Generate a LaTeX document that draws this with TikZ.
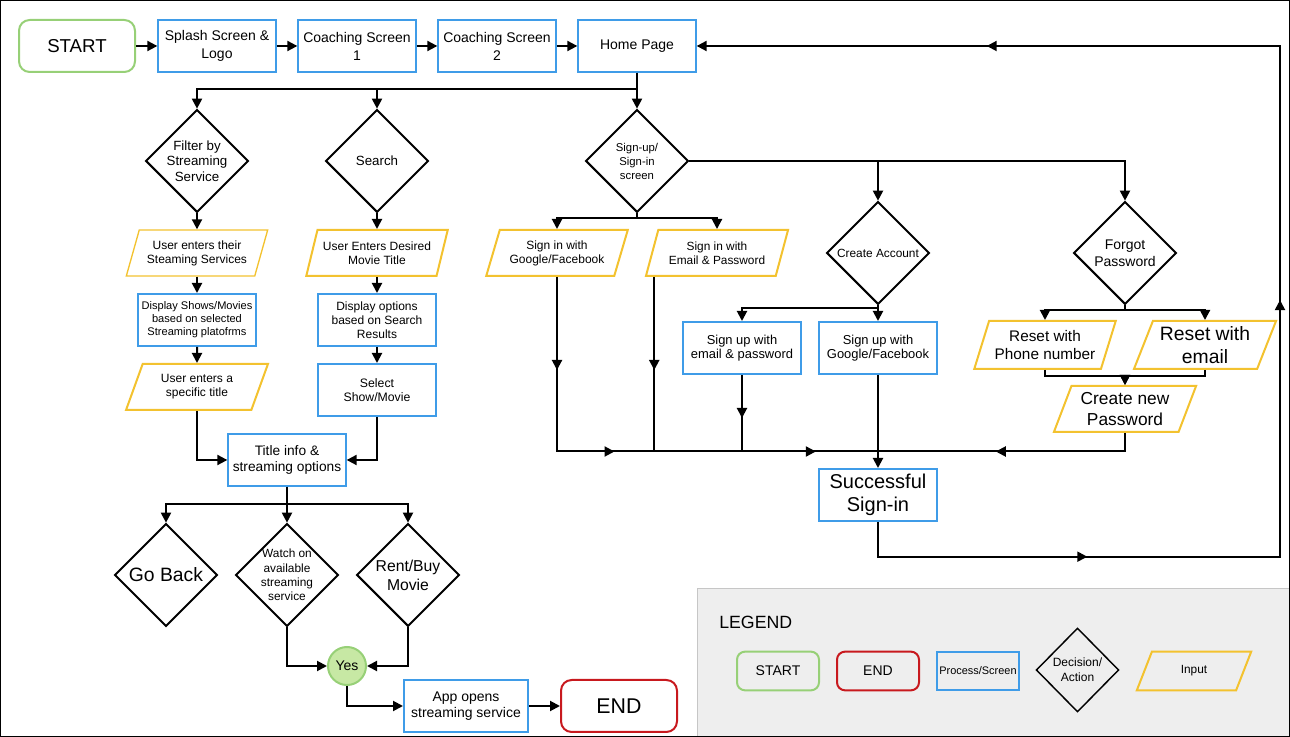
\documentclass[tikz,border=0pt]{standalone}
\usepackage{fontspec}
\setmainfont{Liberation Sans}
\usepackage{tikz}
\usetikzlibrary{shapes.geometric}
\usetikzlibrary{arrows.meta}
\usetikzlibrary{decorations.markings}

\definecolor{startgreen}{HTML}{97D077}
\definecolor{yesgreen}{HTML}{C7E8A4}
\definecolor{screenblue}{HTML}{3F9CE8}
\definecolor{inputyellow}{HTML}{F3C22F}
\definecolor{endred}{HTML}{C8191E}
\definecolor{legendgray}{HTML}{EEEEEE}
\definecolor{legendline}{HTML}{C6C6C6}

\newcommand{\fs}[2]{\fontsize{#1}{#2}\selectfont}

\tikzset{
  flowtip/.tip={Triangle[length=7.5pt,width=7.5pt]},
  flow/.style={draw,line width=1.5pt,-flowtip},
  wire/.style={draw,line width=1.5pt},
  midtip/.style={postaction={decorate,decoration={markings,mark=at position #1 with {\arrow{flowtip}}}}},
  terminal/.style={rectangle,rounded corners=8pt,draw=#1,line width=1.5pt,minimum width=87pt,minimum height=39pt,inner sep=1pt,align=center},
  screen/.style={rectangle,draw=screenblue,line width=1.5pt,minimum width=88pt,minimum height=39pt,inner sep=1pt,align=center},
  decision/.style={diamond,draw,line width=1.5pt,minimum width=77pt,minimum height=77pt,inner sep=-8pt,align=center},
  userinput/.style={trapezium,trapezium left angle=66,trapezium right angle=114,trapezium stretches=true,draw=inputyellow,line width=1.5pt,minimum width=107pt,minimum height=34.5pt,inner sep=0pt,align=center}
}

\begin{document}
\begin{tikzpicture}[x=0.75pt,y=-0.75pt]
  \useasboundingbox (0,0) rectangle (1290,737);
  % legend panel
  \filldraw[fill=legendgray,draw=legendline,line width=0.75pt] (697,588.5) rectangle (1290,737);
  \draw[line width=0.75pt] (0.5,0.5) rectangle (1289.5,736.5);

  % top row
  \node[terminal=startgreen,font=\fs{14}{17}] (start) at (77,46) {START};
  \node[screen,font=\fs{10.5}{13.5}] (splash) at (217,46) {Splash Screen \&\\Logo};
  \node[screen,font=\fs{10.5}{13.5}] (coach1) at (357,46) {Coaching Screen\\1};
  \node[screen,font=\fs{10.5}{13.5}] (coach2) at (497,46) {Coaching Screen\\2};
  \node[screen,font=\fs{10.5}{13.5}] (home) at (637,46) {Home Page};

  % browsing
  \node[decision,font=\fs{10}{11.6}] (filter) at (197,161) {Filter by\\Streaming\\Service};
  \node[decision,font=\fs{10}{12}] (search) at (377,161) {Search};
  \node[userinput,line width=1pt,font=\fs{9}{10.5}] (services) at (197,253) {User enters their\\Steaming Services};
  \node[userinput,font=\fs{9}{10.5}] (desired) at (377,253) {User Enters Desired\\Movie Title};
  \node[screen,font=\fs{8.3}{9.75}] (shows) at (197,320) {Display Shows/Movies\\based on selected\\Streaming platofrms};
  \node[screen,font=\fs{9}{10.5}] (options) at (377,320) {Display options\\based on Search\\Results};
  \node[userinput,font=\fs{9}{10.5}] (specific) at (197,387) {User enters a\\specific title};
  \node[screen,font=\fs{9.2}{10.5}] (select) at (377,390) {Select\\Show/Movie};
  \node[screen,font=\fs{10.3}{12}] (title) at (287,460) {Title info \&\\streaming options};
  \node[decision,font=\fs{14.5}{17}] (goback) at (166,575) {Go Back};
  \node[decision,font=\fs{8.9}{10.75}] (watch) at (287,575) {Watch on\\available\\streaming\\service};
  \node[decision,font=\fs{11.8}{14.25}] (rent) at (408,575) {Rent/Buy\\Movie};
  \node[circle,draw=startgreen,fill=yesgreen,line width=1.5pt,minimum size=28.5pt,inner sep=0pt,font=\fs{10.5}{12}] (yes) at (347,666) {Yes};
  \node[screen,minimum width=93pt,font=\fs{10.5}{11.5}] (app) at (466,706) {App opens\\streaming service};
  \node[terminal=endred,font=\fs{16}{19}] (finish) at (619,706) {END};

  % signing in
  \node[decision,font=\fs{8.5}{10.5}] (signup) at (637,161) {Sign-up/\\Sign-in\\screen};
  \node[userinput,font=\fs{9}{10.5}] (googin) at (557,253) {Sign in with\\Google/Facebook};
  \node[userinput,font=\fs{8.9}{10.5}] (mailin) at (717,253) {Sign in with\\Email \& Password};
  \node[decision,font=\fs{8.9}{10.5}] (create) at (878,253) {Create Account};
  \node[decision,font=\fs{10.5}{13}] (forgot) at (1125,253) {Forgot\\Password};
  \node[screen,font=\fs{9.7}{11}] (mailup) at (742,348) {Sign up with\\email \& password};
  \node[screen,font=\fs{9.7}{11}] (googup) at (878,348) {Sign up with\\Google/Facebook};
  \node[userinput,minimum height=36pt,font=\fs{11.5}{14}] (phone) at (1045,345) {Reset with\\Phone number};
  \node[userinput,minimum height=36pt,font=\fs{14.5}{17}] (email) at (1205,345) {Reset with\\email};
  \node[userinput,font=\fs{13}{15.25}] (newpw) at (1125,409) {Create new\\Password};
  \node[screen,font=\fs{15}{17}] (success) at (878,495) {Successful\\Sign-in};
  \coordinate (bus) at (878,451.5);
  \coordinate (loopback) at (1280,556.7);
  \coordinate (maildrop) at ([xshift=7.2pt]mailin.bottom left corner);

  % legend
  \node[anchor=west,inner sep=0pt,font=\fs{13.3}{16}] (legend) at (719,622) {LEGEND};
  \node[terminal=startgreen,minimum width=61.5pt,minimum height=29pt,rounded corners=6pt,font=\fs{10.5}{12}] (keystart) at (778,671) {START};
  \node[terminal=endred,minimum width=61.5pt,minimum height=29pt,rounded corners=6pt,font=\fs{10.5}{12}] (keyend) at (878,671) {END};
  \node[screen,minimum width=62pt,minimum height=29pt,font=\fs{8.2}{10}] (keyscreen) at (978,671) {Process/Screen};
  \node[decision,minimum width=62pt,minimum height=63pt,line width=1.1pt,font=\fs{9}{11}] (keydecision) at (1077.5,670) {Decision/\\Action};
  \node[userinput,minimum width=86pt,minimum height=29pt,font=\fs{8.9}{10}] (keyinput) at (1194,671) {Input};

  % connectors
  \path[flow]
    (start) edge (splash)
    (splash) edge (coach1)
    (coach1) edge (coach2)
    (coach2) edge (home)
    (home) edge (signup)
    (filter) edge (services)
    (services) edge (shows)
    (shows) edge (specific)
    (search) edge (desired)
    (desired) edge (options)
    (options) edge (select)
    (app) edge (finish)
    (create) edge (googup)
    (googup) edge (success);
  \draw[flow] (home.south) -- ++(0,16.5) -| (filter.north);
  \draw[flow] (home.south) -- ++(0,16.5) -| (search.north);
  \draw[flow] (specific.south) |- (title.west);
  \draw[flow] (select.south) |- (title.east);
  \draw[flow] (title.south) -- ++(0,17) -| (goback.north);
  \draw[flow] (title.south) -- ++(0,17) -| (watch.north);
  \draw[flow] (title.south) -- ++(0,17) -| (rent.north);
  \draw[flow] (watch.south) |- (yes.west);
  \draw[flow] (rent.south) |- (yes.east);
  \draw[flow] (yes.south) |- (app.west);
  \draw[flow] (signup.east) -| (create.north);
  \draw[flow] (signup.east) -| (forgot.north);
  \draw[flow] (signup.south) -- ++(0,5) -| (googin.north);
  \draw[flow] (signup.south) -- ++(0,5) -| (mailin.north);
  \draw[flow] (create.south) -- ++(0,3) -| (mailup.north);
  \draw[flow] (forgot.south) -- ++(0,5) -| (phone.north);
  \draw[flow] (forgot.south) -- ++(0,5) -| (email.north);
  \draw[flow] (phone.south) -- ++(0,6) -| (newpw.north);
  \draw[flow] (email.south) -- ++(0,6) -| (newpw.north);
  \draw[wire,midtip=69.75pt,midtip=174pt,midtip=325pt] (googin.south) |- (bus);
  \draw[wire,midtip=69.75pt] (maildrop) -- (maildrop |- bus);
  \draw[wire,midtip=32.25pt] (mailup.south) -- (mailup.south |- bus);
  \draw[wire,midtip=110.8pt] (newpw.south) |- (bus);
  \draw[flow,midtip=183pt,midtip=520pt,midtip=930.5pt] (success.south) |- (loopback) |- (home.east);
\end{tikzpicture}
\end{document}
